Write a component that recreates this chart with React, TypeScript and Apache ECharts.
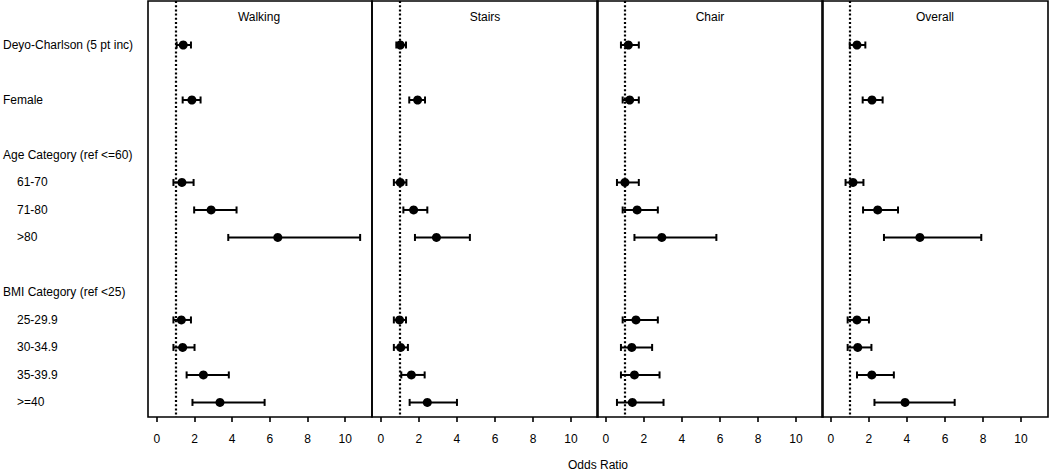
import React, { useEffect, useRef } from "react";
import * as echarts from "echarts";

const panels = ["Walking", "Stairs", "Chair", "Overall"];
const rowLabels = [
  "Deyo-Charlson (5 pt inc)",
  "Female",
  "Age Category (ref <=60)",
  "61-70",
  "71-80",
  ">80",
  "BMI Category (ref <25)",
  "25-29.9",
  "30-34.9",
  "35-39.9",
  ">=40",
];
const rowPositions = [0, 2, 4, 5, 6, 7, 9, 10, 11, 12, 13];
const rowIsSub = [false, false, false, true, true, true, false, true, true, true, true];
const dataRowPositions = [0, 2, 5, 6, 7, 10, 11, 12, 13];
const xTicks = [0, 2, 4, 6, 8, 10];

const walkingOR = [1.4, 1.86, 1.33, 2.88, 6.42, 1.3, 1.37, 2.47, 3.35];
const walkingLo = [1.05, 1.37, 0.88, 1.98, 3.79, 0.88, 0.88, 1.58, 1.89];
const walkingHi = [1.81, 2.32, 1.95, 4.23, 10.79, 1.81, 2.0, 3.82, 5.72];
const stairsOR = [1.02, 1.93, 1.02, 1.72, 2.92, 0.98, 1.04, 1.6, 2.44];
const stairsLo = [0.81, 1.49, 0.68, 1.18, 1.79, 0.68, 0.68, 1.07, 1.51];
const stairsHi = [1.32, 2.32, 1.34, 2.44, 4.68, 1.32, 1.42, 2.3, 4.0];
const chairOR = [1.18, 1.25, 1.0, 1.64, 2.94, 1.58, 1.36, 1.5, 1.39];
const chairLo = [0.79, 0.88, 0.58, 0.88, 1.5, 0.88, 0.79, 0.79, 0.58];
const chairHi = [1.73, 1.73, 1.73, 2.73, 5.81, 2.73, 2.43, 2.82, 3.03];
const overallOR = [1.37, 2.16, 1.16, 2.46, 4.68, 1.37, 1.41, 2.15, 3.9];
const overallLo = [0.99, 1.67, 0.77, 1.69, 2.79, 0.88, 0.88, 1.37, 2.29];
const overallHi = [1.81, 2.72, 1.71, 3.53, 7.91, 2.0, 2.13, 3.31, 6.51];

const panelData = [
  { or: walkingOR, lo: walkingLo, hi: walkingHi },
  { or: stairsOR, lo: stairsLo, hi: stairsHi },
  { or: chairOR, lo: chairLo, hi: chairHi },
  { or: overallOR, lo: overallLo, hi: overallHi },
];

const FONT = "'Liberation Sans', Arial, Helvetica, sans-serif";
const INK = "#000";

export default function App() {
  const ref = useRef<HTMLDivElement>(null);
  useEffect(() => {
    if (!ref.current) return;
    const chart = echarts.init(ref.current, undefined, { renderer: "svg" });
    const gridLefts = [146, 372, 597, 822];
    const gridWidth = 226;
    const grids = gridLefts.map((l) => ({
      left: l,
      top: 1,
      width: gridWidth,
      height: 416,
      show: true,
      borderColor: INK,
      borderWidth: 1.6,
      backgroundColor: "transparent",
      containLabel: false,
    }));
    const xAxes = gridLefts.map((_, i) => ({
      type: "value",
      gridIndex: i,
      position: "bottom",
      min: -0.47,
      max: 11.42,
      splitLine: { show: false },
      axisLine: { show: false, onZero: false },
      axisTick: {
        show: true,
        inside: false,
        length: 5,
        customValues: xTicks,
        lineStyle: { color: INK, width: 1.6 },
      },
      axisLabel: {
        show: true,
        customValues: xTicks,
        margin: 16,
        color: INK,
        fontSize: 12,
        fontFamily: FONT,
      },
    }));
    const yAxes = gridLefts.map((_, i) => ({
      type: "value",
      gridIndex: i,
      inverse: true,
      min: -1.6,
      max: 13.53,
      splitLine: { show: false },
      axisLine: { show: false, onZero: false },
      axisTick: { show: false },
      axisLabel:
        i === 0
          ? {
              show: true,
              customValues: rowPositions,
              align: "left",
              margin: 145,
              color: INK,
              fontSize: 12,
              fontFamily: FONT,
              formatter: (v: number) => {
                const k = rowPositions.indexOf(Math.round(v));
                if (k < 0) return "";
                return rowIsSub[k] ? `{s|${rowLabels[k]}}` : `{h|${rowLabels[k]}}`;
              },
              rich: {
                h: { fontSize: 12, fontFamily: FONT, color: INK },
                s: { fontSize: 12, fontFamily: FONT, color: INK, padding: [0, 0, 0, 14] },
              },
            }
          : { show: false },
    }));

    const series: any[] = [];
    panelData.forEach((p, i) => {
      series.push({
        type: "custom",
        xAxisIndex: i,
        yAxisIndex: i,
        silent: true,
        data: dataRowPositions.map((y, k) => [p.lo[k], p.hi[k], y]),
        renderItem: (params: any, api: any) => {
          const a = api.coord([api.value(0), api.value(2)]);
          const b = api.coord([api.value(1), api.value(2)]);
          const cap = 3.5;
          const st = { stroke: INK, lineWidth: 2 };
          return {
            type: "group",
            children: [
              { type: "line", shape: { x1: a[0], y1: a[1], x2: b[0], y2: b[1] }, style: st },
              { type: "line", shape: { x1: a[0], y1: a[1] - cap, x2: a[0], y2: a[1] + cap }, style: st },
              { type: "line", shape: { x1: b[0], y1: b[1] - cap, x2: b[0], y2: b[1] + cap }, style: st },
            ],
          };
        },
      });
      series.push({
        type: "scatter",
        xAxisIndex: i,
        yAxisIndex: i,
        symbol: "circle",
        symbolSize: 9,
        itemStyle: { color: INK, opacity: 1 },
        silent: true,
        data: dataRowPositions.map((y, k) => [p.or[k], y]),
        markLine: {
          silent: true,
          symbol: "none",
          label: { show: false },
          lineStyle: { color: INK, width: 2.2, type: [2, 2.2] },
          data: [{ xAxis: 1 }],
        },
        z: 3,
      });
    });

    const titles: any[] = panels.map((name, i) => ({
      text: name,
      left: gridLefts[i] + gridWidth / 2,
      top: 11,
      padding: 0,
      textAlign: "center",
      textStyle: { fontSize: 12, fontWeight: "normal", color: INK, fontFamily: FONT },
    }));
    titles.push({
      text: "Odds Ratio",
      left: 598,
      top: 459,
      padding: 0,
      textAlign: "center",
      textStyle: { fontSize: 12, fontWeight: "normal", color: INK, fontFamily: FONT },
    });

    chart.setOption({
      animation: false,
      backgroundColor: "#fff",
      title: titles,
      grid: grids,
      xAxis: xAxes,
      yAxis: yAxes,
      series,
    });
    return () => chart.dispose();
  }, []);
  return (
    <div
      ref={ref}
      style={{ position: "fixed", left: 0, top: 0, width: 1050, height: 473, background: "#fff" }}
    />
  );
}
